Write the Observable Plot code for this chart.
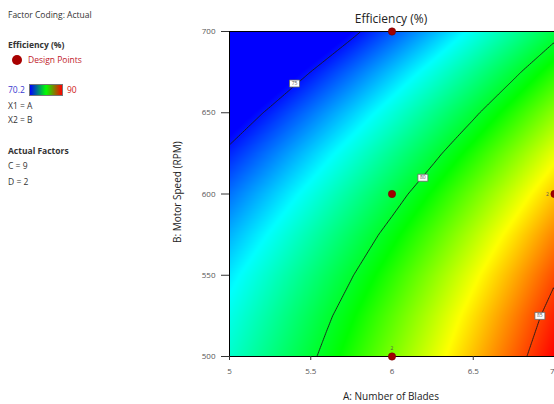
<!DOCTYPE html>
<html><head><meta charset="utf-8">
<script src="https://cdn.jsdelivr.net/npm/d3@7"></script>
<script src="https://cdn.jsdelivr.net/npm/@observablehq/plot@0.6"></script>
<style>
body{margin:0;background:#fff;font-family:"Open Sans",sans-serif;}
#wrap{position:relative;width:554px;height:404px;overflow:hidden;}
#chart{position:absolute;left:0;top:0;}
.t{position:absolute;font-size:8.5px;line-height:10px;color:#333;white-space:nowrap;}
.b{font-weight:bold;}
</style></head><body><div id="wrap">
<div id="chart"></div>
<div class="t" style="left:8px;top:10px">Factor Coding: Actual</div>
<div class="t b" style="left:8px;top:40px">Efficiency (%)</div>
<div style="position:absolute;left:12px;top:55px;width:10px;height:10px;border-radius:50%;background:#a80000"></div>
<div class="t" style="left:28px;top:55px;color:#c0202a">Design Points</div>
<div class="t" style="left:8px;top:85px;color:#3a3ad0">70.2</div>
<div style="position:absolute;left:29px;top:84px;width:34px;height:12px;background:linear-gradient(to right,#0000ff,#00ff00,#ff0000);border:1px solid #777;box-sizing:border-box"></div>
<div class="t" style="left:67px;top:85px;color:#d02020">90</div>
<div class="t" style="left:8px;top:101px">X1 = A</div>
<div class="t" style="left:8px;top:115px">X2 = B</div>
<div class="t b" style="left:8px;top:146px">Actual Factors</div>
<div class="t" style="left:8px;top:161px">C = 9</div>
<div class="t" style="left:8px;top:177px">D = 2</div>
<div class="t" style="left:291px;width:200px;text-align:center;top:12px;font-size:12px;line-height:14px;color:#222">Efficiency (%)</div>
<div class="t" style="left:291px;width:200px;text-align:center;top:390px;font-size:10px;line-height:12px;color:#222">A: Number of Blades</div>
<div class="t" style="left:127px;width:100px;text-align:center;top:187px;font-size:10px;line-height:12px;color:#222;transform:rotate(-90deg)">B: Motor Speed (RPM)</div>
</div>
<script>
const blades = [5, 5.25, 5.5, 5.75, 6, 6.25, 6.5, 6.75, 7];
const speeds = [500, 525, 550, 575, 600, 625, 650, 675, 700];
const efficiency = [
  [78.10, 78.97, 79.86, 80.78, 81.72, 82.68, 83.67, 84.67, 85.70],
  [77.74, 78.61, 79.51, 80.42, 81.36, 82.32, 83.31, 84.32, 85.35],
  [77.28, 78.15, 79.04, 79.95, 80.89, 81.86, 82.84, 83.85, 84.88],
  [76.69, 77.56, 78.46, 79.37, 80.31, 81.27, 82.26, 83.27, 84.30],
  [76.00, 76.87, 77.76, 78.68, 79.62, 80.58, 81.57, 82.57, 83.60],
  [75.19, 76.06, 76.96, 77.87, 78.81, 79.77, 80.76, 81.77, 82.80],
  [74.28, 75.15, 76.04, 76.95, 77.89, 78.86, 79.84, 80.85, 81.88],
  [73.24, 74.11, 75.01, 75.92, 76.86, 77.82, 78.81, 79.82, 80.85],
  [72.10, 72.97, 73.86, 74.78, 75.72, 76.68, 77.67, 78.67, 79.70]
];
const designBlades = [6, 6, 6, 7];
const designSpeeds = [500, 600, 700, 600];
const designReps = ["2", "", "", "2"];
const contourLevels = [75, 80, 85];
const labelBlades = [5.40, 6.19, 6.91];
const labelSpeeds = [668, 610, 525];
const xTicks = [5, 5.5, 6, 6.5, 7];
const yTicks = [500, 550, 600, 650, 700];
const colorStops = [74.8, 77.5, 80.5, 83, 85.7];
const colorRange = ["#0000ff", "#00ffff", "#00ff00", "#ffff00", "#ff0000"];

const grid = speeds.flatMap((B, i) => blades.map((A, j) => ({A, B, E: efficiency[i][j]})));
const points = designBlades.map((A, i) => ({A, B: designSpeeds[i], rep: designReps[i]}));
const labels = contourLevels.map((v, i) => ({A: labelBlades[i], B: labelSpeeds[i], v}));
const boxSymbol = {draw(ctx) { ctx.moveTo(-5, -3.5); ctx.lineTo(5, -3.5); ctx.lineTo(5, 3.5); ctx.lineTo(-5, 3.5); ctx.closePath(); }};
const innerTicks = xTicks.slice(0, -1);
const lastTick = xTicks.slice(-1);

const chart = Plot.plot({
  width: 554, height: 404,
  marginLeft: 229, marginRight: 0, marginTop: 31, marginBottom: 48,
  style: {fontFamily: '"Open Sans", sans-serif', fontSize: "8px", color: "#000", overflow: "visible", background: "transparent"},
  x: {domain: [5, 7], label: null},
  y: {domain: [500, 700], label: null},
  color: {type: "linear", domain: colorStops, range: colorRange, clamp: true},
  marks: [
    Plot.raster(grid, {x: "A", y: "B", fill: "E", interpolate: "barycentric", pixelSize: 1}),
    Plot.contour(grid, {x: "A", y: "B", value: "E", thresholds: contourLevels, interpolate: "barycentric", stroke: "#1a1a1a", fill: "none", strokeWidth: 0.9}),
    Plot.frame({stroke: "#000", strokeWidth: 1}),
    Plot.axisX({ticks: xTicks, tickSize: 4, stroke: "#333", text: null, label: null}),
    Plot.axisX({ticks: innerTicks, tickFormat: d => String(d), tickSize: 0, tickPadding: 12, fill: "#555", label: null}),
    Plot.axisX({ticks: lastTick, tickFormat: d => String(d), tickSize: 0, tickPadding: 12, fill: "#555", textAnchor: "end", dx: 0, label: null}),
    Plot.axisY({ticks: yTicks, tickSize: 8, tickPadding: 6, fill: "#555", stroke: "#333", label: null}),
    Plot.dot(labels, {x: "A", y: "B", symbol: boxSymbol, fill: "white", stroke: "#666", strokeWidth: 0.8}),
    Plot.text(labels, {x: "A", y: "B", text: d => String(d.v), fontSize: 5, fill: "#555"}),
    Plot.dot(points, {x: "A", y: "B", r: 3.7, fill: "#a00000", stroke: "#700000", strokeWidth: 0.5}),
    Plot.text(points.filter(d => d.rep && d.A < 7), {x: "A", y: "B", text: "rep", dy: -8, fontSize: 5, fill: "#555"}),
    Plot.text(points.filter(d => d.rep && d.A === 7), {x: "A", y: "B", text: "rep", dx: -7, fontSize: 5, fill: "#555"})
  ]
});
document.getElementById("chart").appendChild(chart);
</script>
</body></html>
